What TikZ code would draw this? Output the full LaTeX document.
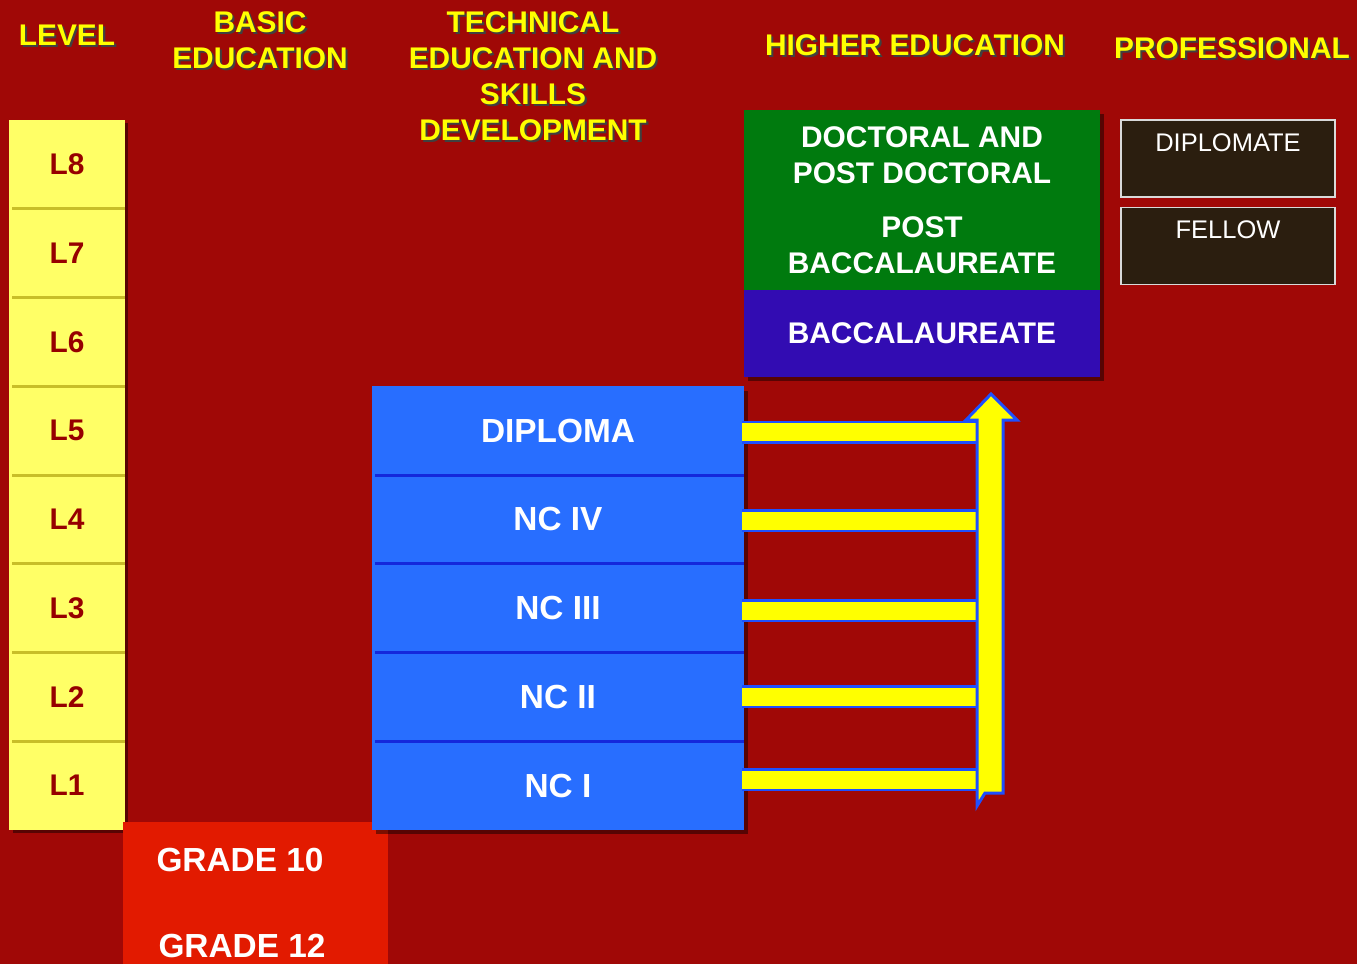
\documentclass[tikz,border=0pt]{standalone}
\usepackage{fontspec}
\setmainfont{Liberation Sans}
\usetikzlibrary{positioning}

\definecolor{bgred}{RGB}{160,8,6}
\definecolor{lvlyellow}{RGB}{255,255,102}
\definecolor{lvlsep}{RGB}{200,190,40}
\definecolor{lvltext}{RGB}{150,0,0}
\definecolor{hdryellow}{RGB}{255,255,0}
\definecolor{techblue}{RGB}{40,110,255}
\definecolor{sepblue}{RGB}{20,40,220}
\definecolor{hegreen}{RGB}{0,122,14}
\definecolor{baccblue}{RGB}{50,12,178}
\definecolor{profbrown}{RGB}{43,30,15}
\definecolor{gradered}{RGB}{226,26,0}
\definecolor{barblue}{RGB}{30,80,255}

% heading with its dark shadow
\newcommand{\hdr}[3]{%
  \node[hdr, text=black!75, xshift=1.2pt, yshift=-1.2pt] at (#2) {#3};
  \node[hdr] (#1) at (#2) {#3};}

\begin{document}
\begin{tikzpicture}[x=0.2mm, y=-0.2mm,
    hdr/.style={font=\bfseries\fontsize{17}{20.5}\selectfont, text=hdryellow, align=center, inner sep=0},
    lvl/.style={fill=lvlyellow, minimum width=23mm, minimum height=17.75mm,
      outer sep=0, text=lvltext, font=\bfseries\fontsize{17}{20}\selectfont},
    techrow/.style={fill=techblue, minimum width=74.4mm, minimum height=17.75mm, outer sep=0,
      text=white, font=\bfseries\fontsize{19}{22}\selectfont},
    higher/.style={minimum width=71.2mm, outer sep=0, text=white, align=center,
      font=\bfseries\fontsize{17}{20.5}\selectfont},
    prof/.style={fill=profbrown, draw=black!15, line width=0.8pt, minimum width=42.8mm, minimum height=15.4mm},
    proflbl/.style={anchor=north, yshift=-1.6mm, text=white, font=\fontsize{14.5}{17}\selectfont},
    gradetxt/.style={text=white, font=\bfseries\fontsize{19}{22}\selectfont},
    boxshadow/.style={fill=black, opacity=0.45},
    bar/.style={draw=barblue, double=hdryellow, line width=0.5mm, double distance=3.6mm},
    bigarrow/.style={fill=hdryellow, draw=barblue, line width=0.6mm, line join=miter}]

  \fill[bgred] (0,0) rectangle (1357,964);
  \useasboundingbox (0,0) rectangle (1357,964);

  % headings
  \hdr{hlevel}{67,35}{LEVEL}
  \hdr{hbasic}{260,40}{BASIC\\EDUCATION}
  \hdr{htech}{533,76}{TECHNICAL\\EDUCATION AND\\SKILLS\\DEVELOPMENT}
  \hdr{hhigher}{915,45}{HIGHER EDUCATION}
  \hdr{hprof}{1232,48}{PROFESSIONAL}

  % levels
  \fill[boxshadow] (13,123) rectangle (128,833);
  \foreach \i in {1,...,8}
    \node[lvl] (L\i) at (67,{830-(\i-0.5)*88.75}) {L\i};
  \foreach \i in {2,...,8}
    \draw[lvlsep, line width=0.6mm] ([xshift=0.6mm]L\i.south west) -- (L\i.south east);

  % basic education
  \node[fill=gradered, minimum width=53mm, minimum height=28.4mm] (grade) at (255.5,893) {};
  \node[gradetxt] (g10) at (240,860) {GRADE 10};
  \node[gradetxt] (g12) at (242,946) {GRADE 12};

  % technical education
  \fill[boxshadow] (376,391) rectangle (748,834);
  \foreach \t/\i in {DIPLOMA/5, NC IV/4, NC III/3, NC II/2, NC I/1}
    \node[techrow] (T\i) at (558,{830-(\i-0.5)*88.75}) {\t};
  \foreach \i in {2,...,5}
    \draw[sepblue, line width=0.6mm] ([xshift=0.6mm]T\i.south west) -- (T\i.south east);

  % higher education
  \fill[boxshadow] (748,114) rectangle (1104,381);
  \node[higher, fill=hegreen, minimum height=18mm] (doct) at (922,155) {DOCTORAL AND\\POST DOCTORAL};
  \node[higher, fill=hegreen, minimum height=18mm, below=0mm of doct] (pbacc) {POST\\BACCALAUREATE};
  \node[higher, fill=baccblue, minimum height=17.4mm, below=0mm of pbacc] (bacc) {BACCALAUREATE};

  % professional
  \node[prof, label={[proflbl]north:DIPLOMATE}] (dipl) at (1228,158.5) {};
  \node[prof, label={[proflbl]north:FELLOW}, below=1.8mm of dipl] (fellow) {};

  % ladder into higher education
  \coordinate (shaft) at (977,0);
  \foreach \i/\dy in {1/1.2, 2/0, 3/-0.5, 4/-0.3, 5/-0.3}
    \draw[bar] ([xshift=-0.4mm, yshift=\dy mm]T\i.east) -- ([yshift=\dy mm]T\i.east -| shaft);
  \draw[bigarrow] (977,806) -- (977,420) -- (966,420) -- (991,394) -- (1017,420)
    -- (1003,420) -- (1003,793) -- (985,793) -- cycle;
\end{tikzpicture}
\end{document}
